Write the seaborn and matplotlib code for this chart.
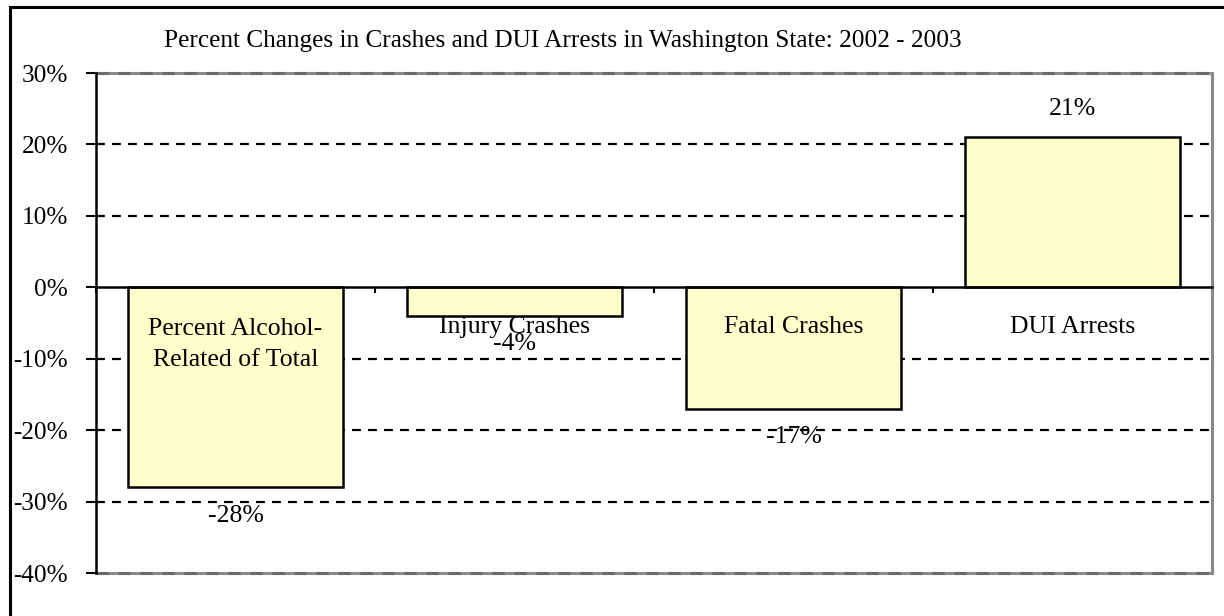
import matplotlib
matplotlib.use("Agg")
import matplotlib.pyplot as plt
import seaborn as sns
import pandas as pd
from matplotlib.ticker import FuncFormatter, FixedLocator
from matplotlib.patches import Rectangle

categories = ["Percent Alcohol-\nRelated of Total", "Injury Crashes", "Fatal Crashes", "DUI Arrests"]
values = [-28, -4, -17, 21]
value_labels = ["-28%", "-4%", "-17%", "21%"]
title = "Percent Changes in Crashes and DUI Arrests in Washington State: 2002 - 2003"
yticks = [30, 20, 10, 0, -10, -20, -30, -40]

sns.set_style("white")
plt.rcParams["font.family"] = ["Liberation Serif", "DejaVu Serif"]
plt.rcParams["font.size"] = 18.5
plt.rcParams["text.color"] = "black"
plt.rcParams["xtick.color"] = "black"
plt.rcParams["ytick.color"] = "black"
plt.rcParams["axes.labelcolor"] = "black"

FS = 18.5
W, H = 1224, 616
fig = plt.figure(figsize=(W / 100, H / 100), dpi=100)
ax = fig.add_axes([96 / W, 1 - 573 / H, (1212 - 96) / W, (573 - 73) / H])

df = pd.DataFrame({"cat": categories, "val": values})
sns.barplot(data=df, x="cat", y="val", color="#FFFFCC", saturation=1, width=0.774,
            edgecolor="black", linewidth=1.8, ax=ax, zorder=3)

ax.set_ylim(-40, 30)
ax.set_xlim(-0.5, len(categories) - 0.5)
ax.set_xlabel("")
ax.set_ylabel("")

# gridlines
for t in yticks:
    if t in (0, 30, -40):
        continue
    ax.axhline(t, color="black", lw=1.6, ls=(0, (4, 3.2)), zorder=1)
# plot-area border (gray)
ax.axhline(30, color="#8a8a8a", lw=2.2, zorder=2, clip_on=False)
ax.axhline(30, color="#6a6a6a", lw=2.2, ls=(0, (4, 3.2)), zorder=2, clip_on=False)
ax.axhline(-40, color="#8a8a8a", lw=2.2, zorder=2, clip_on=False)
ax.axhline(-40, color="#6a6a6a", lw=2.2, ls=(0, (4, 3.2)), zorder=2, clip_on=False)

ax.spines["top"].set_visible(False)
ax.spines["right"].set_color("#8a8a8a")
ax.spines["right"].set_linewidth(2.2)
ax.spines["left"].set_color("black")
ax.spines["left"].set_linewidth(1.8)
ax.spines["left"].set_zorder(5)
ax.spines["bottom"].set_position(("data", 0))
ax.spines["bottom"].set_color("black")
ax.spines["bottom"].set_linewidth(1.8)
ax.spines["bottom"].set_zorder(5)

ax.yaxis.set_major_locator(FixedLocator(yticks))
ax.yaxis.set_major_formatter(FuncFormatter(lambda v, p: f"{int(round(v))}%"))
ax.tick_params(axis="y", direction="out", length=7, width=1.5, pad=13, labelsize=18.2,
               left=True, colors="black")

ax.set_xticks([i - 0.5 for i in range(len(categories) + 1)])
ax.set_xticklabels([])
ax.tick_params(axis="x", direction="out", length=4.5, width=1.5, bottom=True, colors="black")

# category labels inside the plot below the zero line
for i, c in enumerate(categories):
    nlines = c.count("\n") + 1
    y = -5.6 - (nlines - 1) * 2.4
    ax.text(i, y, c, ha="center", va="center", fontsize=FS, linespacing=1.5,
            color="black", zorder=6)

# value labels
for i, (v, lab) in enumerate(zip(values, value_labels)):
    y = v + 4.0 if v > 0 else v - 4.0
    ax.text(i, y, lab, ha="center", va="center", fontsize=FS, color="black", zorder=6)

fig.text(563 / W, 1 - 41 / H, title, ha="center", va="center", fontsize=18.2, color="black")

# figure border (top and left visible)
fig.patches.append(Rectangle((10 / W, -0.1), 1.2, 1.1 - 6.5 / H, transform=fig.transFigure,
                             fill=False, edgecolor="black", lw=2.2))

fig.savefig("out.png", dpi=100)
